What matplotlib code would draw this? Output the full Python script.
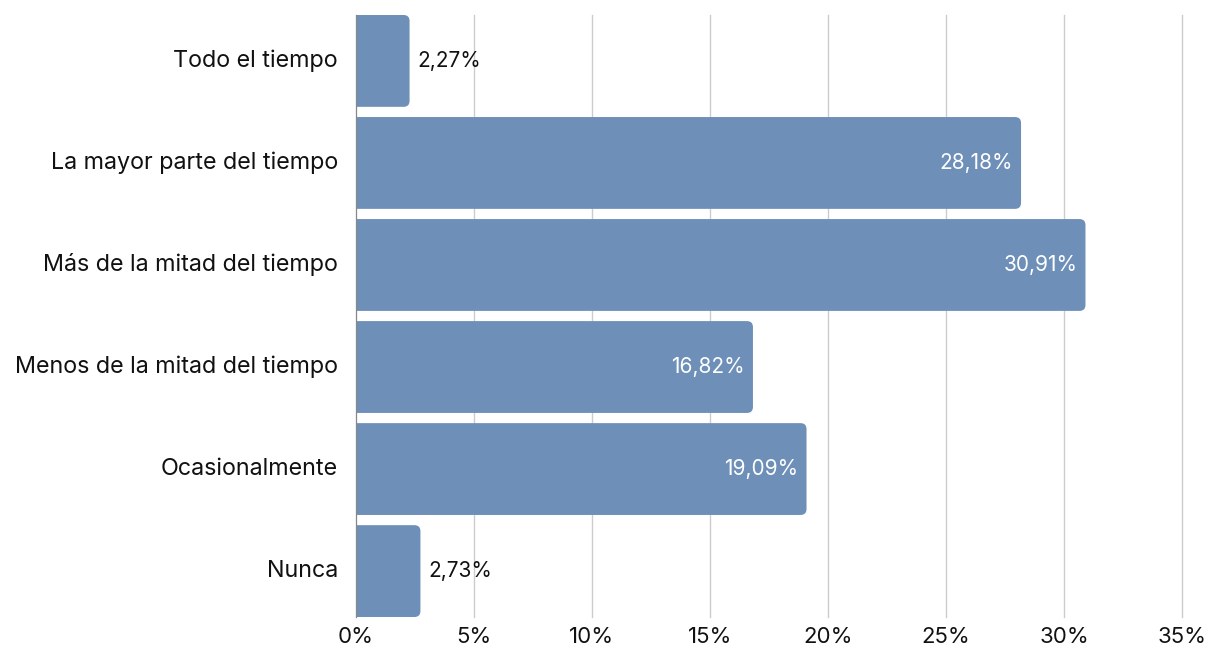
import matplotlib
matplotlib.use("Agg")
import matplotlib.pyplot as plt
from matplotlib.patches import FancyBboxPatch
from matplotlib.ticker import FuncFormatter

categories = ["Todo el tiempo", "La mayor parte del tiempo", "Más de la mitad del tiempo",
              "Menos de la mitad del tiempo", "Ocasionalmente", "Nunca"]
values = [2.27, 28.18, 30.91, 16.82, 19.09, 2.73]
labels = ["2,27%", "28,18%", "30,91%", "16,82%", "19,09%", "2,73%"]
xticks = [0, 5, 10, 15, 20, 25, 30, 35]

plt.rcParams['font.family'] = ['Inter', 'DejaVu Sans']
color = "#6d8fb8"

fig = plt.figure(figsize=(12.11, 6.5), dpi=100)
ax = fig.add_axes([356/1211, 1-617/650, (1182-356)/1211, (617-15)/650])

ypos = list(range(len(categories)))
bars = ax.barh(ypos, values, height=0.9, color=color)
ax.set_xlim(0, 35)
ax.set_ylim(5.45, -0.45)

# replace bars with rounded versions
ax.figure.canvas.draw()
bbox = ax.get_window_extent()
xu = 35 / bbox.width
yu = 5.9 / bbox.height
r_px = 6
for b in bars:
    x0, y0 = b.get_x(), b.get_y()
    w, h = b.get_width(), b.get_height()
    b.set_visible(False)
    pad = 2.0
    p = FancyBboxPatch((x0 - pad, y0), w + pad, h,
                       boxstyle=f"round,pad=0,rounding_size={r_px*xu}",
                       mutation_aspect=yu/xu, facecolor=color, edgecolor="none",
                       zorder=2, clip_on=True)
    ax.add_patch(p)

for y, v, lab in zip(ypos, values, labels):
    if v > 10:
        ax.text(v - 0.35, y, lab, ha="right", va="center", color="white", fontsize=15, zorder=3)
    else:
        ax.text(v + 0.35, y, lab, ha="left", va="center", color="#111111", fontsize=15, zorder=3)

ax.set_yticks(ypos)
ax.set_yticklabels(categories, fontsize=16.8, color="#111111", va="center")
ax.set_xticks(xticks)
ax.xaxis.set_major_formatter(FuncFormatter(lambda v, p: f"{int(v)}%"))
ax.tick_params(axis="x", labelsize=16, colors="#111111", length=0, pad=7)
ax.tick_params(axis="y", length=0, pad=13)
ax.grid(axis="x", color="#cccccc", linewidth=1, zorder=0)
for gl in ax.get_xgridlines():
    gl.set_clip_on(False)
ax.set_axisbelow(True)
for s in ["top", "right", "bottom"]:
    ax.spines[s].set_visible(False)
ax.spines["left"].set_color("#888888")
ax.spines["left"].set_zorder(4)

fig.savefig("out.png", dpi=100)
